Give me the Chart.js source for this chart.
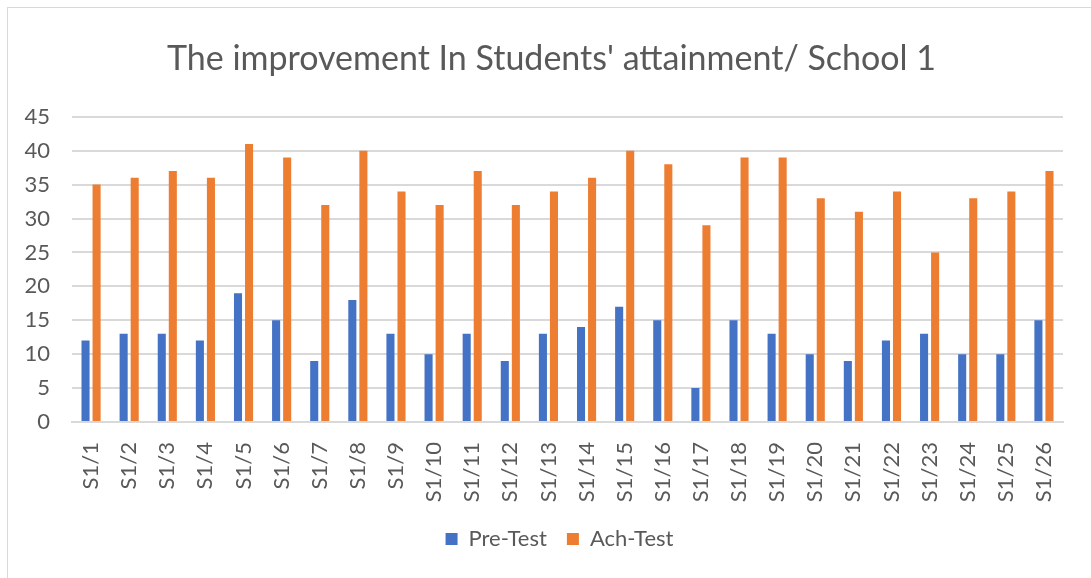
<!DOCTYPE html>
<html>
<head>
<meta charset="utf-8">
<script src="https://cdn.jsdelivr.net/npm/chart.js@4/dist/chart.umd.min.js"></script>
<style>
  html, body { margin: 0; padding: 0; background: #ffffff; }
  body { width: 1091px; height: 578px; position: relative; overflow: hidden; }
  #frame { position: absolute; left: 7px; top: 7px; width: 1100px; height: 600px; border: 1px solid #d9d9d9; box-sizing: border-box; }
  #wrap { position: absolute; left: 0; top: 0; width: 1091px; height: 578px; }
</style>
</head>
<body>
<div id="frame"></div>
<div id="wrap"><canvas id="c" width="1091" height="578"></canvas></div>
<script>
const students = ['S1/1','S1/2','S1/3','S1/4','S1/5','S1/6','S1/7','S1/8','S1/9','S1/10','S1/11','S1/12','S1/13',
                  'S1/14','S1/15','S1/16','S1/17','S1/18','S1/19','S1/20','S1/21','S1/22','S1/23','S1/24','S1/25','S1/26'];
const preTest = [12,13,13,12,19,15,9,18,13,10,13,9,13,14,17,15,5,15,13,10,9,12,13,10,10,15];
const achTest = [35,36,37,36,41,39,32,40,34,32,37,32,34,36,40,38,29,39,39,33,31,34,25,33,34,37];
const yTicks = [0,5,10,15,20,25,30,35,40,45];

const textColor = '#595959';
const fontFamily = 'Lato, "Open Sans", sans-serif';

// Nudge the title toward the middle of the frame and the legend toward the middle of the plot.
const centerBoxes = {
  id: 'centerBoxes',
  afterLayout(chart) {
    const t = chart.titleBlock;
    if (t) { t.left += 10; t.right += 10; }
    const l = chart.legend;
    if (l) { l.left += 18; l.right += 18; if (l.adjustHitBoxes) l.adjustHitBoxes(); }
  }
};

new Chart(document.getElementById('c'), {
  type: 'bar',
  data: {
    labels: students,
    datasets: [
      { label: 'Pre-Test', data: preTest, backgroundColor: '#4472C4', borderWidth: 0 },
      { label: 'Ach-Test', data: achTest, backgroundColor: '#ED7D31', borderWidth: 0 }
    ]
  },
  plugins: [centerBoxes],
  options: {
    responsive: false,
    animation: false,
    devicePixelRatio: 1,
    layout: { padding: { left: 20, right: 28, top: 0, bottom: 18 } },
    datasets: { bar: { categoryPercentage: 0.58, barPercentage: 0.73 } },
    plugins: {
      title: {
        display: true,
        text: "The improvement In Students' attainment/ School 1",
        color: textColor,
        font: { family: fontFamily, size: 34, weight: 'normal', lineHeight: 1.2 },
        padding: { top: 39, bottom: 37 }
      },
      legend: {
        position: 'bottom',
        labels: {
          color: textColor,
          font: { family: fontFamily, size: 22 },
          boxWidth: 12, boxHeight: 12,
          padding: 20
        }
      },
      tooltip: { enabled: false }
    },
    scales: {
      x: {
        grid: { display: false, drawTicks: false },
        border: { display: true, color: '#d9d9d9', width: 2 },
        ticks: {
          color: textColor,
          font: { family: fontFamily, size: 22 },
          minRotation: 90, maxRotation: 90,
          padding: 20,
          autoSkip: false
        },
        afterFit: (s) => { s.height = 86; }
      },
      y: {
        min: 0, max: 45,
        afterBuildTicks: (s) => { s.ticks = yTicks.map(v => ({ value: v })); },
        grid: { color: '#d9d9d9', lineWidth: 2, drawTicks: false },
        border: { display: false },
        ticks: {
          color: textColor,
          font: { family: fontFamily, size: 22 },
          padding: 22
        },
        afterFit: (s) => { s.width = 52; }
      }
    }
  }
});
</script>
</body>
</html>
